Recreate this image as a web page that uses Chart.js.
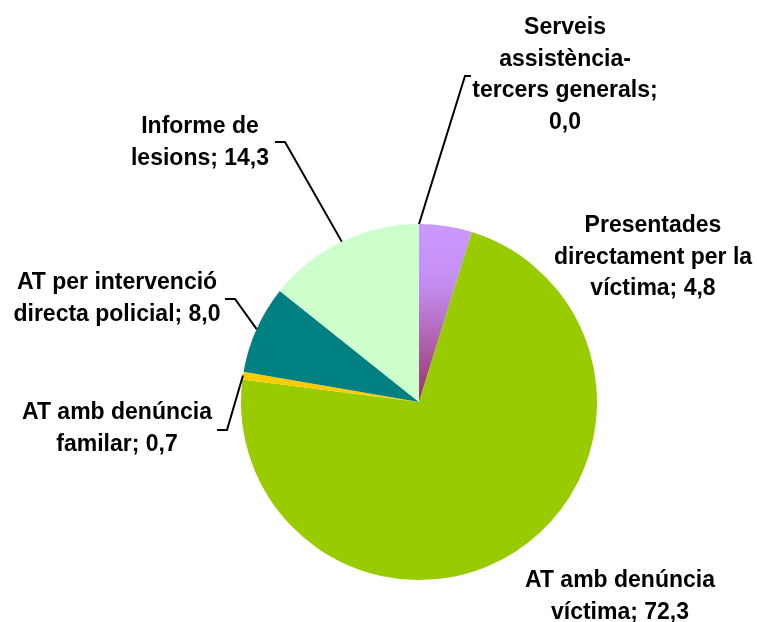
<!DOCTYPE html>
<html>
<head>
<meta charset="utf-8">
<script src="https://cdn.jsdelivr.net/npm/chart.js@4/dist/chart.umd.min.js"></script>
<style>
html,body{margin:0;padding:0;background:#fff;}
#wrap{width:757px;height:622px;}
</style>
</head>
<body>
<div id="wrap"><canvas id="c" width="757" height="622"></canvas></div>
<script>
// ---- Data ----
const categories = [
  "Serveis assistència-tercers generals",
  "Presentades directament per la víctima",
  "AT amb denúncia víctima",
  "AT amb denúncia familar",
  "AT per intervenció directa policial",
  "Informe de lesions"
];
const values = [0.0, 4.8, 72.3, 0.7, 8.0, 14.3];
const labelLines = [
  ["Serveis", "assistència-", "tercers generals;", "0,0"],
  ["Presentades", "directament per la", "víctima; 4,8"],
  ["AT amb denúncia", "víctima; 72,3"],
  ["AT amb denúncia", "familar; 0,7"],
  ["AT per intervenció", "directa policial; 8,0"],
  ["Informe de", "lesions; 14,3"]
];
const sliceColors = [null, "gradient", "#99CC00", "#FFCC00", "#008080", "#CCFFCC"];

// ---- Layout (positions/styles) ----
const labelPos = [
  {x: 565, y: 28, leader: [[465, 76], [471, 76]]},
  {x: 653, y: 226, leader: null},
  {x: 620, y: 581, leader: null},
  {x: 117, y: 413, leader: [[227, 430], [217, 430]]},
  {x: 117, y: 283, leader: [[235, 299], [225, 299]]},
  {x: 200, y: 127, leader: [[285, 142], [275, 142]]}
];
const lineH = 31.5;

function bg(ctx) {
  const chart = ctx.chart;
  const i = ctx.dataIndex;
  const c = sliceColors[i];
  if (c !== "gradient") return c || "rgba(0,0,0,0)";
  const area = chart.chartArea;
  if (!area) return "#CC99FF";
  const g = chart.ctx.createLinearGradient(0, area.top, 0, (area.top + area.bottom) / 2);
  g.addColorStop(0, "#CC99FF");
  g.addColorStop(0.35, "#C48CF0");
  g.addColorStop(1, "#993366");
  return g;
}

const labelPlugin = {
  id: "pieLabels",
  afterDatasetsDraw(chart) {
    const ctx = chart.ctx;
    const meta = chart.getDatasetMeta(0);
    ctx.save();
    ctx.font = "bold 23px 'Liberation Sans', Arial, sans-serif";
    ctx.fillStyle = "#000";
    ctx.textAlign = "center";
    ctx.textBaseline = "middle";
    labelLines.forEach((lines, i) => {
      const p = labelPos[i];
      lines.forEach((t, k) => ctx.fillText(t, p.x, p.y + k * lineH));
      if (p.leader) {
        const a = meta.data[i];
        const mid = (a.startAngle + a.endAngle) / 2;
        const sx = a.x + Math.cos(mid) * a.outerRadius;
        const sy = a.y + Math.sin(mid) * a.outerRadius;
        ctx.beginPath();
        ctx.strokeStyle = "#000";
        ctx.lineWidth = 2;
        ctx.moveTo(sx, sy);
        p.leader.forEach(pt => ctx.lineTo(pt[0], pt[1]));
        ctx.stroke();
      }
    });
    ctx.restore();
  }
};

const chart = new Chart(document.getElementById("c"), {
  type: "pie",
  data: {
    labels: categories,
    datasets: [{
      data: values,
      backgroundColor: bg,
      borderWidth: 0
    }]
  },
  options: {
    responsive: false,
    animation: false,
    layout: {padding: {left: 241, right: 160, top: 224, bottom: 42}},
    plugins: {legend: {display: false}, tooltip: {enabled: false}}
  },
  plugins: [labelPlugin]
});
chart.update();
</script>
</body>
</html>
